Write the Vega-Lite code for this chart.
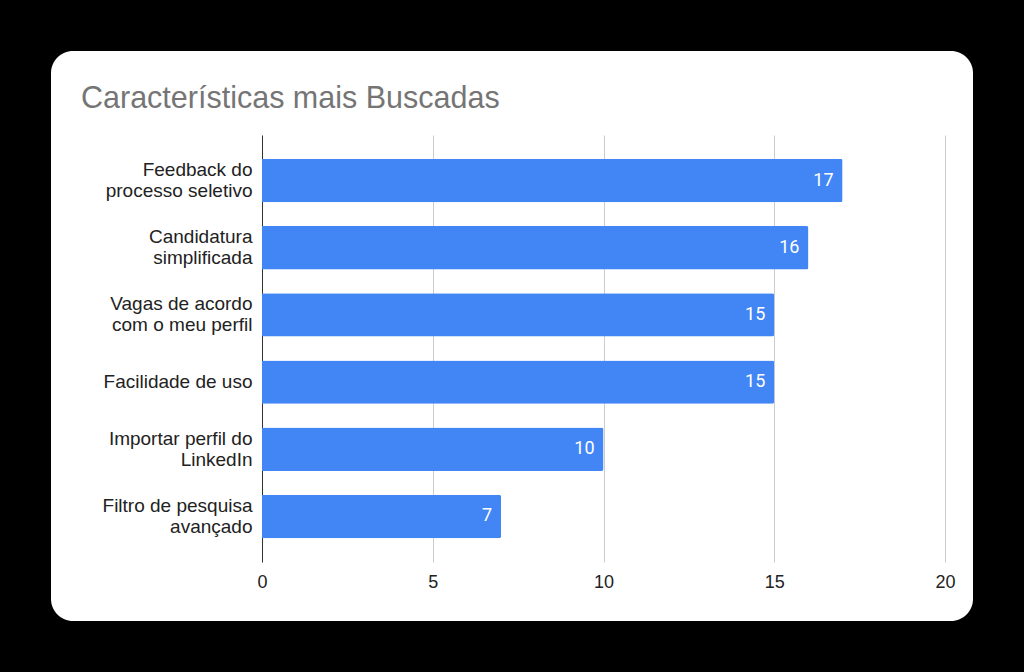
{
  "$schema": "https://vega.github.io/schema/vega-lite/v6.json",
  "autosize": "none",
  "width": 922,
  "height": 570,
  "padding": {"left": 51, "top": 51, "right": 51, "bottom": 51},
  "background": "black",
  "config": {
    "view": {"fill": "white", "stroke": null, "cornerRadius": 22}
  },
  "title": {
    "text": "Características mais Buscadas",
    "anchor": "start",
    "frame": "group",
    "orient": "top",
    "offset": -87,
    "baseline": "alphabetic",
    "dx": 30,
    "font": "Liberation Sans",
    "fontSize": 30.5,
    "fontWeight": "normal",
    "color": "#757575"
  },
  "data": {
    "values": [
      {"label": "Feedback do\nprocesso seletivo", "value": 17},
      {"label": "Candidatura\nsimplificada", "value": 16},
      {"label": "Vagas de acordo\ncom o meu perfil", "value": 15},
      {"label": "Facilidade de uso", "value": 15},
      {"label": "Importar perfil do\nLinkedIn", "value": 10},
      {"label": "Filtro de pesquisa\navançado", "value": 7}
    ]
  },
  "encoding": {
    "y": {
      "field": "label",
      "type": "nominal",
      "sort": null,
      "scale": {"range": [84, 511], "paddingInner": 0.355, "paddingOuter": 0.355},
      "axis": {
        "title": null,
        "offset": -211,
        "labelExpr": "split(datum.label, '\\n')",
        "labelFont": "Liberation Sans",
        "labelFontSize": 19,
        "labelLineHeight": 21,
        "labelColor": "#222222",
        "labelPadding": 10,
        "labelLimit": 300,
        "labelOffset": {"condition": {"test": "indexof(datum.value, '\\n') >= 0", "value": -10.5}, "value": 0},
        "ticks": false,
        "domainColor": "#333333",
        "domainWidth": 1,
        "grid": false
      }
    },
    "x": {
      "field": "value",
      "type": "quantitative",
      "scale": {"domain": [0, 20], "range": [211, 894], "nice": false},
      "axis": {
        "orient": "top",
        "title": null,
        "offset": -511,
        "values": [0, 5, 10, 15, 20],
        "domain": false,
        "ticks": false,
        "tickSize": 0,
        "labelFlush": false,
        "labelPadding": -20,
        "labelBaseline": "middle",
        "labelFont": "Liberation Sans",
        "labelFontSize": 18,
        "labelColor": "#222222",
        "grid": true,
        "gridColor": "#cccccc",
        "gridWidth": 1
      }
    }
  },
  "layer": [
    {
      "mark": {"type": "bar", "color": "#4285F4", "cornerRadiusEnd": 2}
    },
    {
      "mark": {
        "type": "text",
        "align": "right",
        "baseline": "middle",
        "dx": -9,
        "color": "white",
        "font": "Roboto",
        "fontSize": 18
      },
      "encoding": {"text": {"field": "value", "type": "quantitative"}}
    }
  ]
}
